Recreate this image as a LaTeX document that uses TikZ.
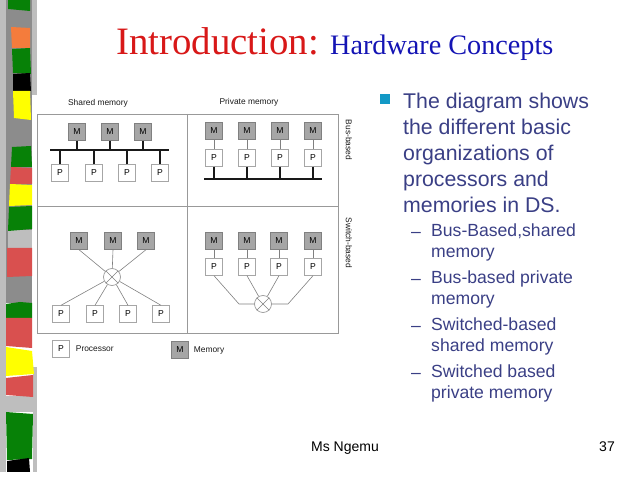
\documentclass[tikz,border=0pt]{standalone}
\usepackage{fontspec}
\setmainfont{Liberation Sans}
\newfontfamily\titlefont{Liberation Serif}
\usetikzlibrary{
  	positioning,
  	calc
  }
\definecolor{stripgray}{HTML}{8C8C8C}
\definecolor{striplight}{HTML}{BEBEBE}
\definecolor{stripgreen}{HTML}{078107}
\definecolor{stripred}{HTML}{D9504F}
\definecolor{striporange}{HTML}{F47C3C}
\definecolor{stripyellow}{HTML}{FFFF00}
\definecolor{titlered}{HTML}{D81818}
\definecolor{titleblue}{HTML}{1414B4}
\definecolor{bodyblue}{HTML}{3A3F85}
\definecolor{bulletblue}{HTML}{1399C6}
\definecolor{memfill}{HTML}{A6A6A6}
\tikzstyle{mem}=[rectangle,draw=gray,fill=memfill,minimum size=17pt,inner sep=0pt,font=\fontsize{8.6}{9}\selectfont]
\tikzstyle{proc}=[rectangle,draw=gray!70,fill=white,minimum size=17pt,inner sep=0pt,font=\fontsize{8.6}{9}\selectfont]
\tikzstyle{switchnode}=[circle,draw=gray!80,line width=.7pt,minimum size=17pt,inner sep=0pt]
\tikzstyle{bus}=[line width=2pt,black!90]
\tikzstyle{stub}=[line width=1.2pt,black!90]
\tikzstyle{wire}=[line width=.6pt,gray]
\tikzstyle{grid}=[line width=.6pt,gray!80]
\tikzstyle{small}=[inner sep=0pt,black!90,font=\fontsize{8.4}{9}\selectfont]
\tikzstyle{body}=[inner sep=0pt,anchor=north west,align=left,bodyblue]
\tikzstyle{subitem}=[body,font=\fontsize{17.6}{21}\selectfont]
\tikzstyle{dashmark}=[inner sep=0pt,anchor=base west,bodyblue,font=\fontsize{17.6}{21}\selectfont]
\tikzstyle{foot}=[inner sep=0pt,anchor=base,black,font=\fontsize{14}{16}\selectfont]

\begin{document}
\begin{tikzpicture}[x=1pt,y=-1pt]
  \useasboundingbox (0,0) rectangle (638,478);
%
  % side strip
  \fill [striplight] (0,0) rectangle (6,472);
  \fill [striplight] (32,0) rectangle (37,95);
  \fill [striplight] (33,367) rectangle (37,472);
  \fill [stripgray] (6,0) rectangle (32,276);
  \fill [stripgray] (6,276) rectangle (32,303);
  \fill [striplight] (8,230) rectangle (32,248);
  \fill [striplight] (5,396) rectangle (33,412);
  \fill [stripgreen] (8,0) -- (30,0) -- (30,11) -- (8,9) -- cycle;
  \fill [striporange] (11,27) -- (30,28) -- (30,48) -- (12,48) -- cycle;
  \fill [stripgreen] (12,49) -- (30,48) -- (31,74) -- (13,73) -- cycle;
  \fill [black] (13,74) -- (30,73) -- (31,91) -- (13,91) -- cycle;
  \fill [stripyellow] (13,91) -- (30,91) -- (31,120) -- (14,118) -- cycle;
  \fill [stripgreen] (12,147) -- (31,146) -- (32,167) -- (11,167) -- cycle;
  \fill [stripred] (11,167) -- (32,168) -- (32,184) -- (10,184) -- cycle;
  \fill [stripyellow] (10,184) -- (32,185) -- (32,205) -- (9,206) -- cycle;
  \fill [stripgreen] (9,207) -- (32,206) -- (32,229) -- (8,231) -- cycle;
  \fill [stripred] (7,248) -- (32,248) -- (32,276) -- (7,277) -- cycle;
  \fill [stripgreen] (6,304) -- (20,302) -- (32,303) -- (32,318) -- (6,318) -- cycle;
  \fill [stripred] (6,318) -- (32,318) -- (32,348) -- (6,346) -- cycle;
  \fill [stripyellow] (6,347) -- (32,351) -- (34,374) -- (6,376) -- cycle;
  \fill [stripred] (6,378) -- (33,375) -- (33,397) -- (6,395) -- cycle;
  \fill [stripgreen] (6,412) -- (33,414) -- (32,459) -- (7,460) -- cycle;
  \fill [black] (7,461) -- (29,458) -- (30,472) -- (7,472) -- cycle;
%
  % title
  \node [inner sep=0pt,anchor=base west,titlered,font=\titlefont\fontsize{38.8}{40}\selectfont] (intro) at (116,55) {Introduction:};
  \node [inner sep=0pt,anchor=base west,titleblue,font=\titlefont\fontsize{28.2}{29}\selectfont] (hw) at (330,55) {Hardware Concepts};
%
  % grid
  \draw [grid] (37,114) rectangle (338,333);
  \draw [grid] (187,114) -- (187,333);
  \draw [grid] (37,206) -- (338,206);
  \node [small] (shared) at (98,103) {Shared memory};
  \node [small] (private) at (249,102) {Private memory};
  \node [small,rotate=-90] (busbased) at (349,140) {Bus-based};
  \node [small,rotate=-90] (switchbased) at (349,243) {Switch-based};
%
  % bus, shared
  \node [mem] (a1) at (77,132) {M};
  \node [mem] (a2) at (110,132) {M};
  \node [mem] (a3) at (143,132) {M};
  \node [proc] (p1) at (60,173) {P};
  \node [proc] (p2) at (94,173) {P};
  \node [proc] (p3) at (127,173) {P};
  \node [proc] (p4) at (160,173) {P};
  \coordinate (busl) at (50,150);
  \coordinate (busr) at (169,150);
  \draw [bus] (busl) -- (busr);
  \draw [stub] (a1) -- (a1 |- busl);
  \draw [stub] (a2) -- (a2 |- busl);
  \draw [stub] (a3) -- (a3 |- busl);
  \draw [stub] (p1) -- (p1 |- busl);
  \draw [stub] (p2) -- (p2 |- busl);
  \draw [stub] (p3) -- (p3 |- busl);
  \draw [stub] (p4) -- (p4 |- busl);
%
  % bus, private
  \node [mem] (b1) at (214,131) {M};
  \node [mem] (b2) at (247,131) {M};
  \node [mem] (b3) at (280,131) {M};
  \node [mem] (b4) at (313,131) {M};
  \node [proc] (q1) at (214,158) {P};
  \node [proc] (q2) at (247,158) {P};
  \node [proc] (q3) at (280,158) {P};
  \node [proc] (q4) at (313,158) {P};
  \coordinate (busm) at (204,179);
  \coordinate (busn) at (322,179);
  \draw [bus] (busm) -- (busn);
  \draw [wire] (b1) -- (q1);
  \draw [wire] (b2) -- (q2);
  \draw [wire] (b3) -- (q3);
  \draw [wire] (b4) -- (q4);
  \draw [stub] (q1) -- (q1 |- busm);
  \draw [stub] (q2) -- (q2 |- busm);
  \draw [stub] (q3) -- (q3 |- busm);
  \draw [stub] (q4) -- (q4 |- busm);
%
  % switch, shared
  \node [mem] (c1) at (79,241) {M};
  \node [mem] (c2) at (113,241) {M};
  \node [mem] (c3) at (146,241) {M};
  \node [switchnode] (s) at (112,277) {};
  \node [proc] (r1) at (61,314) {P};
  \node [proc] (r2) at (95,314) {P};
  \node [proc] (r3) at (128,314) {P};
  \node [proc] (r4) at (161,314) {P};
  \draw [wire] (s.north west) -- (s.south east);
  \draw [wire] (s.north east) -- (s.south west);
  \draw [wire] (c1.south) -- (s);
  \draw [wire] (c2.south) -- (s);
  \draw [wire] (c3.south) -- (s);
  \draw [wire] (r1.north) -- (s);
  \draw [wire] (r2.north) -- (s);
  \draw [wire] (r3.north) -- (s);
  \draw [wire] (r4.north) -- (s);
%
  % switch, private
  \node [mem] (d1) at (214,241) {M};
  \node [mem] (d2) at (247,241) {M};
  \node [mem] (d3) at (279,241) {M};
  \node [mem] (d4) at (313,241) {M};
  \node [proc] (t1) at (214,267) {P};
  \node [proc] (t2) at (247,267) {P};
  \node [proc] (t3) at (279,267) {P};
  \node [proc] (t4) at (313,267) {P};
  \node [switchnode] (u) at (263,304) {};
  \coordinate (elbl) at (239,304);
  \coordinate (elbr) at (288,304);
  \draw [wire] (u.north west) -- (u.south east);
  \draw [wire] (u.north east) -- (u.south west);
  \draw [wire] (d1) -- (t1);
  \draw [wire] (d2) -- (t2);
  \draw [wire] (d3) -- (t3);
  \draw [wire] (d4) -- (t4);
  \draw [wire] (t1.south) -- (elbl) -- (u);
  \draw [wire] (t2.south) -- (u);
  \draw [wire] (t3.south) -- (u);
  \draw [wire] (t4.south) -- (elbr) -- (u);
%
  % legend
  \node [proc] (lp) at (61,349) {P};
  \node [small,anchor=west,right=6pt of lp] (lptext) {Processor};
  \node [mem] (lm) at (180,350) {M};
  \node [small,anchor=west,right=5pt of lm] (lmtext) {Memory};
%
  % text on the right
  \node [rectangle,fill=bulletblue,minimum size=10pt,inner sep=0pt] (bullet) at (385,99) {};
  \node [body,font=\fontsize{21.3}{26}\selectfont] (main) at (403,93)
     {The diagram shows\\the different basic\\organizations of\\processors and\\memories in DS.};
  \node [subitem] (sub1) at (431,224) {Bus-Based,shared\\memory};
  \node [subitem] (sub2) at (431,271) {Bus-based private\\memory};
  \node [subitem] (sub3) at (431,318) {Switched-based\\shared memory};
  \node [subitem] (sub4) at (431,365) {Switched based\\private memory};
  \node [dashmark] (d1m) at (411,238) {–};
  \node [dashmark] (d2m) at (411,285) {–};
  \node [dashmark] (d3m) at (411,332) {–};
  \node [dashmark] (d4m) at (411,379) {–};
%
  \node [foot] (author) at (345,452) {Ms Ngemu};
  \node [foot,anchor=base east] (page) at (615,452) {37};
\end{tikzpicture}
\end{document}
